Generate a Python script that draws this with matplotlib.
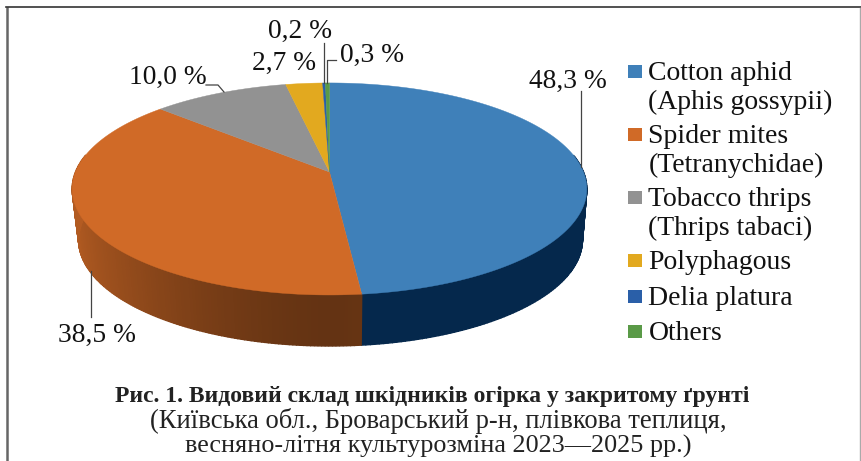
import numpy as np
import matplotlib
matplotlib.use("Agg")
import matplotlib.pyplot as plt
from matplotlib.patches import Polygon, Rectangle
from matplotlib.colors import to_rgb

categories = ["Cotton aphid\n(Aphis gossypii)", "Spider mites\n(Tetranychidae)",
              "Tobacco thrips\n(Thrips tabaci)", "Polyphagous", "Delia platura", "Others"]
values = [48.3, 38.5, 10.0, 2.7, 0.2, 0.3]
value_labels = ["48,3 %", "38,5 %", "10,0 %", "2,7 %", "0,2 %", "0,3 %"]
colors = ["#3F80B9", "#D06A27", "#929292", "#E2A91F", "#2A5FA8", "#5A9A47"]
title_lines = ["Рис. 1. Видовий склад шкідників огірка у закритому ґрунті",
               "(Київська обл., Броварський р-н, плівкова теплиця,",
               "весняно-літня культурозміна 2023—2025 рр.)"]

plt.rcParams['font.family'] = ['Liberation Serif', 'DejaVu Serif']
fig = plt.figure(figsize=(8.61, 4.61), dpi=100)
ax = fig.add_axes([0, 0, 1, 1])
ax.set_xlim(0, 861); ax.set_ylim(461, 0); ax.axis('off')

AX, AY, B, A, K = 329.5, 172, 254, 103.3, 0.16
DEPTH = 51

def rim(t, bottom=False):
    u, v = np.sin(t), -np.cos(t)
    d = 1 - K * v
    x = AX + B * u / d
    y = AY + A * v / d
    if bottom:
        x = AX + (x - AX) * np.where(x > AX, 0.983, 0.975)
        y = y + DEPTH
    return x, y

edges = np.radians(np.concatenate([[0], np.cumsum(values)]) * 3.6)

# frame
ax.plot([7, 7], [461, 8], color="#666666", lw=1.8, zorder=1)
ax.plot([6, 861], [7.5, 7.5], color="#333333", lw=1.2, zorder=1)
ax.plot([860, 860], [8, 461], color="#AAAAAA", lw=1.0, zorder=1)

# side wall
for i in (0, 1):
    ts = np.linspace(edges[i], edges[i + 1], 200)
    ts = ts[(ts > np.radians(80)) & (ts < np.radians(280))]
    for a, b in zip(ts[:-1], ts[1:]):
        x1, y1 = rim(a); x2, y2 = rim(b)
        x3, y3 = rim(b, True); x4, y4 = rim(a, True)
        m = (a + b) / 2
        if i == 0:
            c = "#05284C"
        else:
            f = 0.48 + 0.38 * abs(np.sin(m)) ** 1.5
            c = tuple(np.array(to_rgb(colors[1])) * f)
        ax.add_patch(Polygon([(x1, y1), (x2, y2), (x3, y3), (x4, y4)], closed=True,
                             fc=c, ec=c, lw=1.0, zorder=2))

# top surface
for i, col in enumerate(colors):
    ts = np.linspace(edges[i], edges[i + 1], max(int(values[i] * 4), 6))
    x, y = rim(ts)
    pts = [(AX, AY)] + list(zip(x, y))
    ax.add_patch(Polygon(pts, closed=True, fc=col, ec=col, lw=0.3, zorder=3))

# leader lines
LC = "#444444"
leaders = [[(581, 91), (581, 167)], [(91, 271), (91, 317)],
           [(206, 85), (218, 85), (224, 92)], [(323.5, 43), (323.5, 83)],
           [(336, 60.5), (327, 60.5), (327, 83)]]
for ln in leaders:
    ax.plot(*zip(*ln), color=LC, lw=0.9, zorder=4)

# value labels
label_pos = [(568, 81), (97, 335), (168, 77), (284, 63.5), (300, 31), (372, 55.5)]
for (x, y), s in zip(label_pos, value_labels):
    ax.text(x, y, s, fontsize=19.8, ha='center', va='center', color='#111111', zorder=5)

# legend
legend_y = [71, 134, 197, 260, 296, 331]
for y, s, col in zip(legend_y, categories, colors):
    ax.add_patch(Rectangle((628, y - 6), 14, 13, fc=col, ec='none', zorder=5))
    lines = s.split("\n")
    ax.text(648.5, y + 2, lines[0], fontsize=20, va='center', ha='left', color='#111111', zorder=5)
    if len(lines) > 1:
        ax.text(648.5, y + 31, lines[1], fontsize=20, va='center', ha='left', color='#111111', zorder=5)

# caption
ax.text(432, 396, title_lines[0], fontsize=17, fontweight='bold', ha='center', va='center', color='#222222')
ax.text(438, 421, title_lines[1], fontsize=19.2, ha='center', va='center', color='#222222')
ax.text(438, 446, title_lines[2], fontsize=18.8, ha='center', va='center', color='#222222')

fig.savefig("out.png", dpi=100, facecolor='white')
